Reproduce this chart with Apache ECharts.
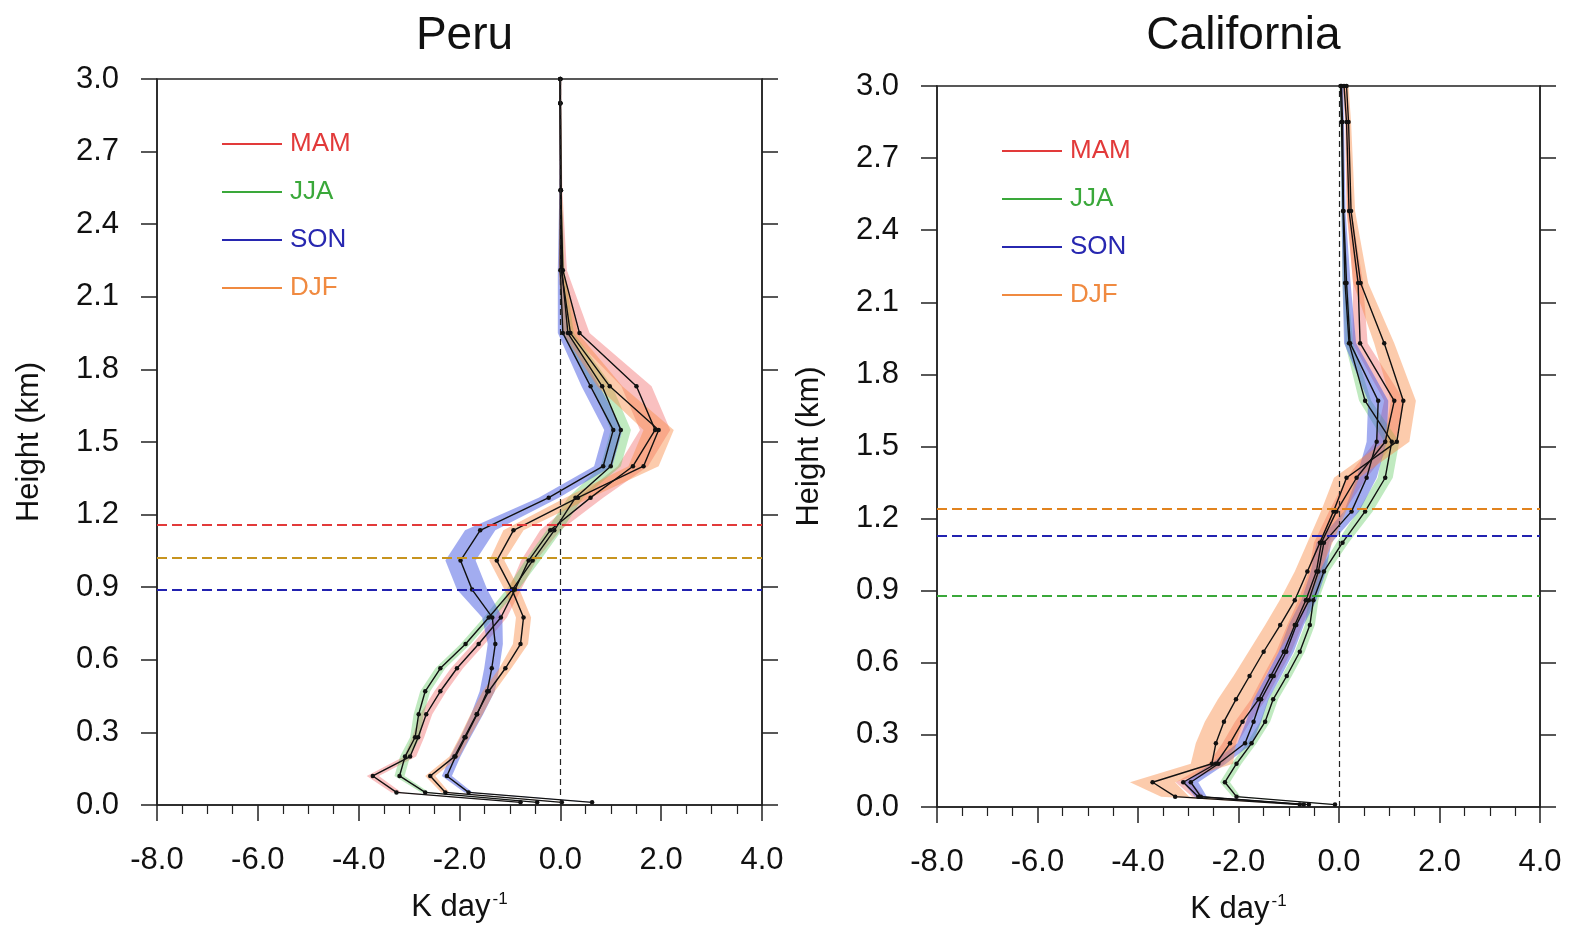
<!DOCTYPE html>
<html>
<head>
<meta charset="utf-8">
<script src="https://cdn.jsdelivr.net/npm/echarts@6/dist/echarts.min.js"></script>
<style>html,body{margin:0;padding:0;background:#fff}#c{width:1574px;height:930px}</style>
</head>
<body>
<div id="c"></div>
<script>
// ---------------- DATA ----------------
const seasons = ['MAM', 'JJA', 'SON', 'DJF'];
const xTicks = [-8, -6, -4, -2, 0, 2, 4];
const yTicks = [0.0, 0.3, 0.6, 0.9, 1.2, 1.5, 1.8, 2.1, 2.4, 2.7, 3.0];

// Peru (heights in km, heating rates in K/day)
const heightsPeru = [0.011, 0.052, 0.12, 0.2, 0.28, 0.375, 0.47, 0.565, 0.665, 0.775, 0.89, 1.01, 1.135, 1.27, 1.40, 1.55, 1.73, 1.95, 2.21, 2.54, 2.9, 3.0];
const peruMAM = [-0.79, -3.25, -3.72, -2.98, -2.82, -2.66, -2.38, -2.05, -1.62, -1.18, -0.90, -0.63, -0.20, 0.60, 1.44, 1.88, 1.51, 0.38, 0.05, 0.01, 0.0, 0.0];
const peruJJA = [-0.46, -2.68, -3.19, -3.08, -2.88, -2.81, -2.68, -2.38, -1.88, -1.42, -0.95, -0.55, -0.12, 0.30, 1.00, 1.20, 0.83, 0.15, 0.03, 0.01, 0.0, 0.0];
const peruSON = [0.63, -1.82, -2.25, -2.08, -1.88, -1.65, -1.45, -1.36, -1.29, -1.35, -1.75, -1.98, -1.59, -0.23, 0.85, 1.05, 0.60, 0.05, 0.0, 0.0, 0.0, 0.0];
const peruDJF = [0.03, -2.28, -2.58, -2.10, -1.90, -1.66, -1.42, -1.09, -0.79, -0.73, -0.96, -1.26, -0.93, 0.35, 1.65, 1.95, 0.98, 0.20, 0.02, 0.01, 0.0, 0.0];
const peruSprMAM = [0.05, 0.10, 0.12, 0.12, 0.12, 0.12, 0.12, 0.12, 0.12, 0.12, 0.12, 0.15, 0.20, 0.25, 0.30, 0.30, 0.30, 0.20, 0.08, 0.03, 0.02, 0.02];
const peruSprJJA = [0.05, 0.08, 0.10, 0.10, 0.10, 0.10, 0.10, 0.10, 0.10, 0.10, 0.12, 0.15, 0.15, 0.15, 0.20, 0.20, 0.20, 0.12, 0.05, 0.02, 0.02, 0.02];
const peruSprSON = [0.05, 0.08, 0.10, 0.10, 0.10, 0.12, 0.15, 0.15, 0.15, 0.20, 0.30, 0.30, 0.30, 0.20, 0.18, 0.18, 0.18, 0.10, 0.05, 0.02, 0.02, 0.02];
const peruSprDJF = [0.05, 0.08, 0.10, 0.10, 0.10, 0.12, 0.12, 0.12, 0.15, 0.15, 0.15, 0.15, 0.20, 0.25, 0.30, 0.30, 0.25, 0.15, 0.05, 0.02, 0.02, 0.02];
const peruDepth = [1.155, 1.02, 0.89, 1.02];   // MAM, JJA, SON, DJF

// California
const heightsCA = [0.01, 0.043, 0.103, 0.18, 0.265, 0.355, 0.448, 0.545, 0.646, 0.757, 0.86, 0.98, 1.10, 1.23, 1.37, 1.52, 1.69, 1.93, 2.18, 2.48, 2.85, 3.0];
const caMAM = [-0.70, -2.80, -3.10, -2.45, -2.17, -1.92, -1.60, -1.36, -1.10, -0.88, -0.66, -0.45, -0.35, -0.05, 0.35, 0.92, 1.10, 0.42, 0.38, 0.20, 0.15, 0.10];
const caJJA = [-0.08, -2.04, -2.27, -2.04, -1.74, -1.47, -1.31, -1.04, -0.78, -0.58, -0.51, -0.30, 0.07, 0.52, 0.92, 1.05, 0.52, 0.20, 0.12, 0.08, 0.05, 0.03];
const caSON = [-0.60, -2.75, -2.95, -2.40, -1.87, -1.70, -1.55, -1.30, -1.05, -0.85, -0.60, -0.41, -0.30, 0.25, 0.55, 0.75, 0.78, 0.22, 0.15, 0.09, 0.07, 0.05];
const caDJF = [-0.78, -3.26, -3.71, -2.53, -2.45, -2.29, -2.05, -1.78, -1.50, -1.17, -0.88, -0.63, -0.38, -0.11, 0.15, 1.15, 1.28, 0.90, 0.43, 0.24, 0.19, 0.15];
const caSprMAM = [0.05, 0.12, 0.15, 0.15, 0.15, 0.15, 0.15, 0.15, 0.15, 0.15, 0.15, 0.15, 0.15, 0.15, 0.20, 0.20, 0.20, 0.15, 0.10, 0.05, 0.03, 0.03];
const caSprJJA = [0.05, 0.08, 0.10, 0.10, 0.10, 0.10, 0.10, 0.10, 0.10, 0.10, 0.10, 0.10, 0.12, 0.15, 0.15, 0.15, 0.12, 0.08, 0.05, 0.03, 0.02, 0.02];
const caSprSON = [0.05, 0.12, 0.15, 0.15, 0.15, 0.15, 0.15, 0.15, 0.15, 0.15, 0.15, 0.15, 0.15, 0.15, 0.20, 0.20, 0.20, 0.12, 0.08, 0.04, 0.03, 0.03];
const caSprDJF = [0.08, 0.28, 0.45, 0.42, 0.40, 0.38, 0.36, 0.32, 0.30, 0.30, 0.30, 0.25, 0.25, 0.25, 0.25, 0.25, 0.25, 0.20, 0.15, 0.08, 0.05, 0.04];
const caDepth = [1.24, 0.88, 1.125, 1.24];

// ---------------- STYLE ----------------
const lineColors = ['#e23a3a', '#3aa83a', '#2727b0', '#f08a40'];
const depthColors = ['#e23a3a', '#3aa83a', '#2222b0', '#e0901a'];
const bandColors = ['rgba(240,90,90,0.38)', 'rgba(90,200,90,0.38)', 'rgba(70,90,225,0.50)', 'rgba(248,140,70,0.45)'];
const FONT = 'Liberation Sans, Arial, sans-serif';

const panels = [
  { title: 'Peru', h: heightsPeru, vals: [peruMAM, peruJJA, peruSON, peruDJF], spr: [peruSprMAM, peruSprJJA, peruSprSON, peruSprDJF], depth: peruDepth,
    grid: { left: 157, top: 79, width: 605, height: 726 }, legend: { left: 217, top: 126 } },
  { title: 'California', h: heightsCA, vals: [caMAM, caJJA, caSON, caDJF], spr: [caSprMAM, caSprJJA, caSprSON, caSprDJF], depth: caDepth,
    grid: { left: 937, top: 86, width: 603, height: 721 }, legend: { left: 997, top: 133 } }
];

const option = {
  animation: false,
  backgroundColor: '#fff',
  title: [], grid: [], xAxis: [], yAxis: [], legend: [], series: []
};

panels.forEach((p, gi) => {
  const cx = p.grid.left + p.grid.width / 2;
  option.title.push({ text: p.title, left: cx, top: 8, textAlign: 'center',
    textStyle: { fontFamily: FONT, fontSize: 46, fontWeight: 'normal', color: '#111' } });
  option.grid.push(Object.assign({ show: true, borderColor: '#222', borderWidth: 1.5, backgroundColor: 'transparent',
    containLabel: false, outerBoundsMode: 'none' }, p.grid));
  option.xAxis.push({
    type: 'value', gridIndex: gi, min: xTicks[0], max: xTicks[xTicks.length - 1], interval: 2,
    name: 'K day{sup|-1}', nameLocation: 'middle', nameGap: 86,
    nameTextStyle: { fontFamily: FONT, fontSize: 31, color: '#111',
      rich: { sup: { fontSize: 17, verticalAlign: 'top', padding: [0, 0, 16, 2], fontFamily: FONT, color: '#111' } } },
    axisLine: { show: true, onZero: false, lineStyle: { color: '#222', width: 1.5 } },
    axisTick: { show: true, inside: false, length: 16, lineStyle: { color: '#222', width: 1.5 } },
    minorTick: { show: true, splitNumber: 4, length: 9, lineStyle: { color: '#222', width: 1.2 } },
    splitLine: { show: false },
    axisLabel: { fontFamily: FONT, fontSize: 31, color: '#111', margin: 40, formatter: v => v.toFixed(1) }
  });
  option.yAxis.push({
    type: 'value', gridIndex: gi, min: yTicks[0], max: yTicks[yTicks.length - 1], interval: 0.3,
    name: 'Height (km)', nameLocation: 'middle', nameGap: 112,
    nameTextStyle: { fontFamily: FONT, fontSize: 31, color: '#111' },
    axisLine: { show: true, onZero: false, lineStyle: { color: '#222', width: 1.5 } },
    axisTick: { show: true, inside: false, length: 16, lineStyle: { color: '#222', width: 1.5 } },
    splitLine: { show: false },
    axisLabel: { fontFamily: FONT, fontSize: 31, color: '#111', margin: 38, formatter: v => v.toFixed(1) }
  });
  // right-side axis: ticks only
  option.yAxis.push({
    type: 'value', gridIndex: gi, position: 'right', min: yTicks[0], max: yTicks[yTicks.length - 1], interval: 0.3,
    axisLine: { show: true, onZero: false, lineStyle: { color: '#222', width: 1.5 } },
    axisTick: { show: true, inside: false, length: 16, lineStyle: { color: '#222', width: 1.5 } },
    axisLabel: { show: false }, splitLine: { show: false }
  });
  const yIdx = gi * 2;

  option.legend.push({
    orient: 'vertical', left: p.legend.left, top: p.legend.top, itemGap: 22,
    itemWidth: 60, itemHeight: 2, selectedMode: false,
    textStyle: { fontFamily: FONT, fontSize: 26, padding: [0, 0, 0, 3] },
    data: seasons.map((s, i) => ({ name: s, icon: 'rect', textStyle: { color: lineColors[i] } }))
  });

  // shaded uncertainty bands
  seasons.forEach((s, si) => {
    const mean = p.vals[si], spr = p.spr[si], hs = p.h;
    option.series.push({
      type: 'custom', name: s, xAxisIndex: gi, yAxisIndex: yIdx, z: 1,
      itemStyle: { color: lineColors[si] },
      data: [[mean[0], hs[0]]],
      encode: { x: 0, y: 1 },
      renderItem: (params, api) => {
        const pts = [];
        for (let i = 0; i < hs.length; i++) pts.push(api.coord([mean[i] - spr[i], hs[i]]));
        for (let i = hs.length - 1; i >= 0; i--) pts.push(api.coord([mean[i] + spr[i], hs[i]]));
        const cs = params.coordSys;
        return { type: 'polygon', shape: { points: pts }, style: { fill: bandColors[si] },
          clipPath: { type: 'rect', shape: { x: cs.x, y: cs.y, width: cs.width, height: cs.height } } };
      }
    });
  });

  // dashed depth lines
  seasons.forEach((s, si) => {
    option.series.push({
      type: 'line', name: s + ' depth', xAxisIndex: gi, yAxisIndex: yIdx, data: [], z: 2,
      markLine: { silent: true, symbol: 'none', label: { show: false },
        lineStyle: { color: depthColors[si], type: [10, 5], width: 2.2, opacity: si === 3 ? 0.85 : 1 },
        data: [{ yAxis: p.depth[si] }] }
    });
  });
  // zero line
  option.series.push({
    type: 'line', name: 'zero', xAxisIndex: gi, yAxisIndex: yIdx, data: [], z: 2,
    markLine: { silent: true, symbol: 'none', label: { show: false },
      lineStyle: { color: '#222', type: [6, 4], width: 1.2 }, data: [{ xAxis: 0 }] }
  });

  // black profile lines
  seasons.forEach((s, si) => {
    option.series.push({
      type: 'line', name: s + ' profile', xAxisIndex: gi, yAxisIndex: yIdx, z: 3,
      data: p.h.map((h, i) => [p.vals[si][i], h]),
      symbol: 'circle', symbolSize: 4.5, showSymbol: true,
      lineStyle: { color: '#111', width: 1.4 },
      itemStyle: { color: '#111' }
    });
  });
});

const chart = echarts.init(document.getElementById('c'), null, { renderer: 'canvas' });
chart.setOption(option);
</script>
</body>
</html>
